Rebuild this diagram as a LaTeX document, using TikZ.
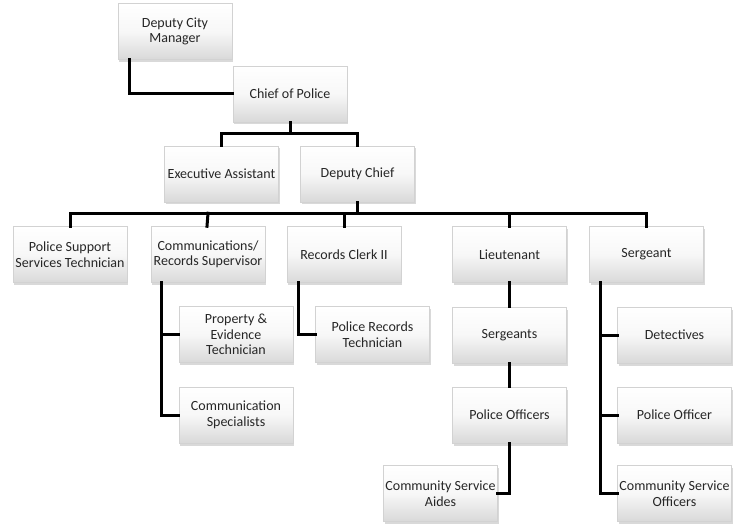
\documentclass[tikz,border=0pt]{standalone}
\usepackage{fontspec}
\setmainfont{Carlito}
\usetikzlibrary{shadows}
\begin{document}
\begin{tikzpicture}[x=1pt,y=-1pt,
  box/.style={rectangle, draw=gray!35, line width=0.5pt,
    top color=white, bottom color=gray!30, middle color=gray!6,
    minimum width=114pt, minimum height=56pt, inner sep=1pt,
    align=center, text=black!85, font=\fontsize{14}{15.5}\selectfont,
    drop shadow={shadow xshift=1pt, shadow yshift=-2.5pt, opacity=0.3, fill=gray}},
  conn/.style={line width=3pt, draw=black, line cap=rect}]
\useasboundingbox (0,0) rectangle (736,529);
% nodes
\node[box] (dcm) at (175,31.5) {Deputy City\\Manager};
\node[box] (chief) at (290,94) {Chief of Police};
\node[box] (ea) at (221.5,174) {Executive Assistant};
\node[box] (dc) at (357.5,174) {Deputy Chief};
\node[box] (pst) at (70,254.5) {Police Support\\Services Technician};
\node[box] (crs) at (208,254.5) {Communications/\\Records Supervisor};
\node[box] (rc) at (344,254.5) {Records Clerk II};
\node[box] (lt) at (509.5,254.5) {Lieutenant};
\node[box] (sg) at (646.5,254.5) {Sergeant};
\node[box] (pe) at (236,334.5) {Property \&\\Evidence\\Technician};
\node[box] (prt) at (372.5,334.5) {Police Records\\Technician};
\node[box] (cs) at (236,415) {Communication\\Specialists};
\node[box] (sgts) at (509.5,335) {Sergeants};
\node[box] (po) at (509.5,415) {Police Officers};
\node[box] (csa) at (440.5,493.5) {Community Service\\Aides};
\node[box] (det) at (674.5,335) {Detectives};
\node[box] (pof) at (674.5,415) {Police Officer};
\node[box] (cso) at (674.5,493.5) {Community Service\\Officers};
% connectors
\begin{scope}[conn]
\draw ([xshift=12pt]dcm.south west) |- (chief.west);
\coordinate (cbus) at ([yshift=-11pt]chief.south);
\draw (chief.south) -- (cbus);
\draw (ea.north) |- (cbus) -| (dc.north);
\coordinate (dbus) at ([yshift=-11pt]dc.south);
\draw (dc.south) -- (dbus);
\draw (pst.north) |- (dbus) -| (sg.north);
\draw ([xshift=-1pt]crs.north) -- (crs.north |- dbus);
\draw (rc.north) -- (rc.north |- dbus);
\draw (lt.north) -- (lt.north |- dbus);
\draw ([xshift=11pt]crs.south west) |- (cs.west);
\draw ([xshift=11pt]crs.south west) |- (pe.west);
\draw ([xshift=12pt]rc.south west) |- (prt.west);
\draw (lt.south) -- (sgts.north);
\draw (sgts.south) -- (po.north);
\draw (po.south) |- (csa.east);
\draw ([xshift=11pt]sg.south west) |- (cso.west);
\draw ([xshift=11pt]sg.south west) |- (det.west);
\draw ([xshift=11pt]sg.south west) |- (pof.west);
\end{scope}
\end{tikzpicture}
\end{document}
